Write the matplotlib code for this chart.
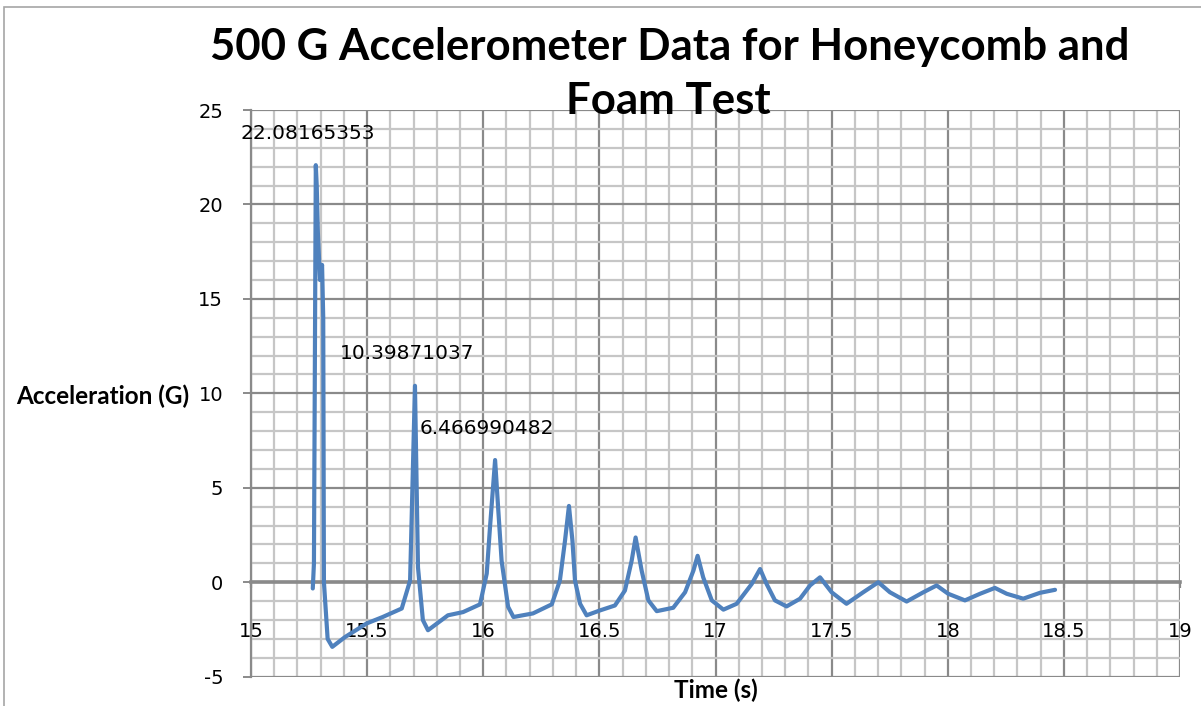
import matplotlib
matplotlib.use("Agg")
import matplotlib.pyplot as plt
import numpy as np
from matplotlib.ticker import MultipleLocator
from matplotlib.patches import Rectangle

plt.rcParams["axes.unicode_minus"] = False

# Data
time_s = [15.266, 15.271, 15.279, 15.283, 15.288, 15.297, 15.306, 15.311, 15.314,
          15.330, 15.350, 15.405, 15.498, 15.567, 15.649, 15.685, 15.706, 15.719,
          15.740, 15.762, 15.848, 15.913, 15.986, 16.015, 16.029, 16.051, 16.065,
          16.079, 16.107, 16.130, 16.214, 16.295, 16.330, 16.352, 16.369, 16.384,
          16.395, 16.417, 16.445, 16.503, 16.567, 16.610, 16.639, 16.656, 16.682,
          16.711, 16.747, 16.818, 16.869, 16.905, 16.923, 16.947, 16.984, 17.034,
          17.091, 17.156, 17.192, 17.220, 17.256, 17.306, 17.364, 17.407, 17.450,
          17.500, 17.564, 17.636, 17.701, 17.751, 17.823, 17.895, 17.952, 18.002,
          18.074, 18.139, 18.203, 18.254, 18.325, 18.397, 18.462]
accel_g = [-0.33, 1.0, 22.08, 21.0, 18.5, 16.0, 16.8, 14.0, 0.0,
           -3.0, -3.42, -2.9, -2.18, -1.84, -1.39, 0.09, 10.40, 0.79,
           -2.0, -2.54, -1.75, -1.58, -1.17, 0.46, 2.9, 6.47, 3.77,
           1.14, -1.3, -1.84, -1.65, -1.17, 0.09, 2.2, 4.04, 2.2,
           0.09, -1.14, -1.75, -1.49, -1.23, -0.44, 1.14, 2.37, 0.62,
           -0.96, -1.53, -1.35, -0.53, 0.62, 1.40, 0.26, -0.96, -1.45,
           -1.14, -0.09, 0.70, -0.09, -0.96, -1.28, -0.87, -0.17, 0.26,
           -0.53, -1.14, -0.53, 0.0, -0.53, -1.02, -0.53, -0.17, -0.61,
           -0.96, -0.61, -0.30, -0.61, -0.87, -0.56, -0.40]

label_times = [15.279, 15.706, 16.051]
label_values = [22.08165353, 10.39871037, 6.466990482]
label_texts = ["22.08165353", "10.39871037", "6.466990482"]

title_lines = ["500 G Accelerometer Data for Honeycomb and", "Foam Test"]
x_label = "Time (s)"
y_label = "Acceleration (G)"

W, H = 1201, 706
fig = plt.figure(figsize=(W / 100, H / 100), dpi=100)
fig.patch.set_facecolor("white")

# outer chart border
fig.patches.append(Rectangle((4 / W, -0.1), 1.2, 1 - 7 / H + 0.1, transform=fig.transFigure,
                             fill=False, edgecolor="#a6a6a6", lw=1.2))

ax = fig.add_axes([251 / W, 29.3 / H, (1180 - 251) / W, (676.7 - 110) / H])
ax.set_xlim(15, 19)
ax.set_ylim(-5, 25)

ax.xaxis.set_major_locator(MultipleLocator(0.5))
ax.xaxis.set_minor_locator(MultipleLocator(0.1))
ax.yaxis.set_major_locator(MultipleLocator(5))
ax.yaxis.set_minor_locator(MultipleLocator(1))

ax.grid(which="minor", color="#c6c6c6", lw=1.6, zorder=0)
ax.grid(which="major", color="#8a8a8a", lw=1.6, zorder=0)
ax.set_axisbelow(True)

for s in ["top", "right"]:
    ax.spines[s].set_visible(False)
ax.spines["left"].set_color("#8a8a8a")
ax.spines["left"].set_linewidth(1.6)
ax.spines["bottom"].set_position(("data", 0))
ax.spines["bottom"].set_color("#8a8a8a")
ax.spines["bottom"].set_linewidth(2.6)

ax.tick_params(axis="both", which="minor", length=0)
ax.tick_params(axis="y", which="major", direction="out", length=6, width=1.4,
               color="#8a8a8a", labelsize=14, pad=14)
ax.tick_params(axis="x", which="major", direction="out", length=4.5, width=1.6,
               color="#8a8a8a", labelsize=14, pad=24)
ax.set_xticks(np.arange(15, 19.01, 0.5))
ax.set_xticklabels(["15", "15.5", "16", "16.5", "17", "17.5", "18", "18.5", "19"])

ax.plot(time_s, accel_g, color="#4f81bd", lw=3.0, solid_joinstyle="round",
        solid_capstyle="round", zorder=3)

for t, v, txt in zip(label_times, label_values, label_texts):
    ax.annotate(txt, (t, v), xytext=(-8, 32), textcoords="offset pixels",
                fontsize=14.5, ha="center", va="center", color="black", zorder=4)

ax.set_xlabel(x_label, fontsize=17.5, fontweight="bold", family="Lato")
ax.xaxis.set_label_coords(0.5, -0.024)
ax.xaxis.label.set_va("center")
ax.set_ylabel(y_label, fontsize=17.5, fontweight="bold", family="Lato", rotation=0,
              ha="right", va="center")
ax.yaxis.set_label_coords(-0.066, 0.495)

fig.text(670 / W, 1 - 47 / H, title_lines[0], ha="center", va="center",
         fontsize=31.5, fontweight="bold", family="Lato")
fig.text(668 / W, 1 - 101 / H, title_lines[1], ha="center", va="center",
         fontsize=31.5, fontweight="bold", family="Lato", zorder=5)

fig.savefig("out.png", dpi=100, facecolor="white")
